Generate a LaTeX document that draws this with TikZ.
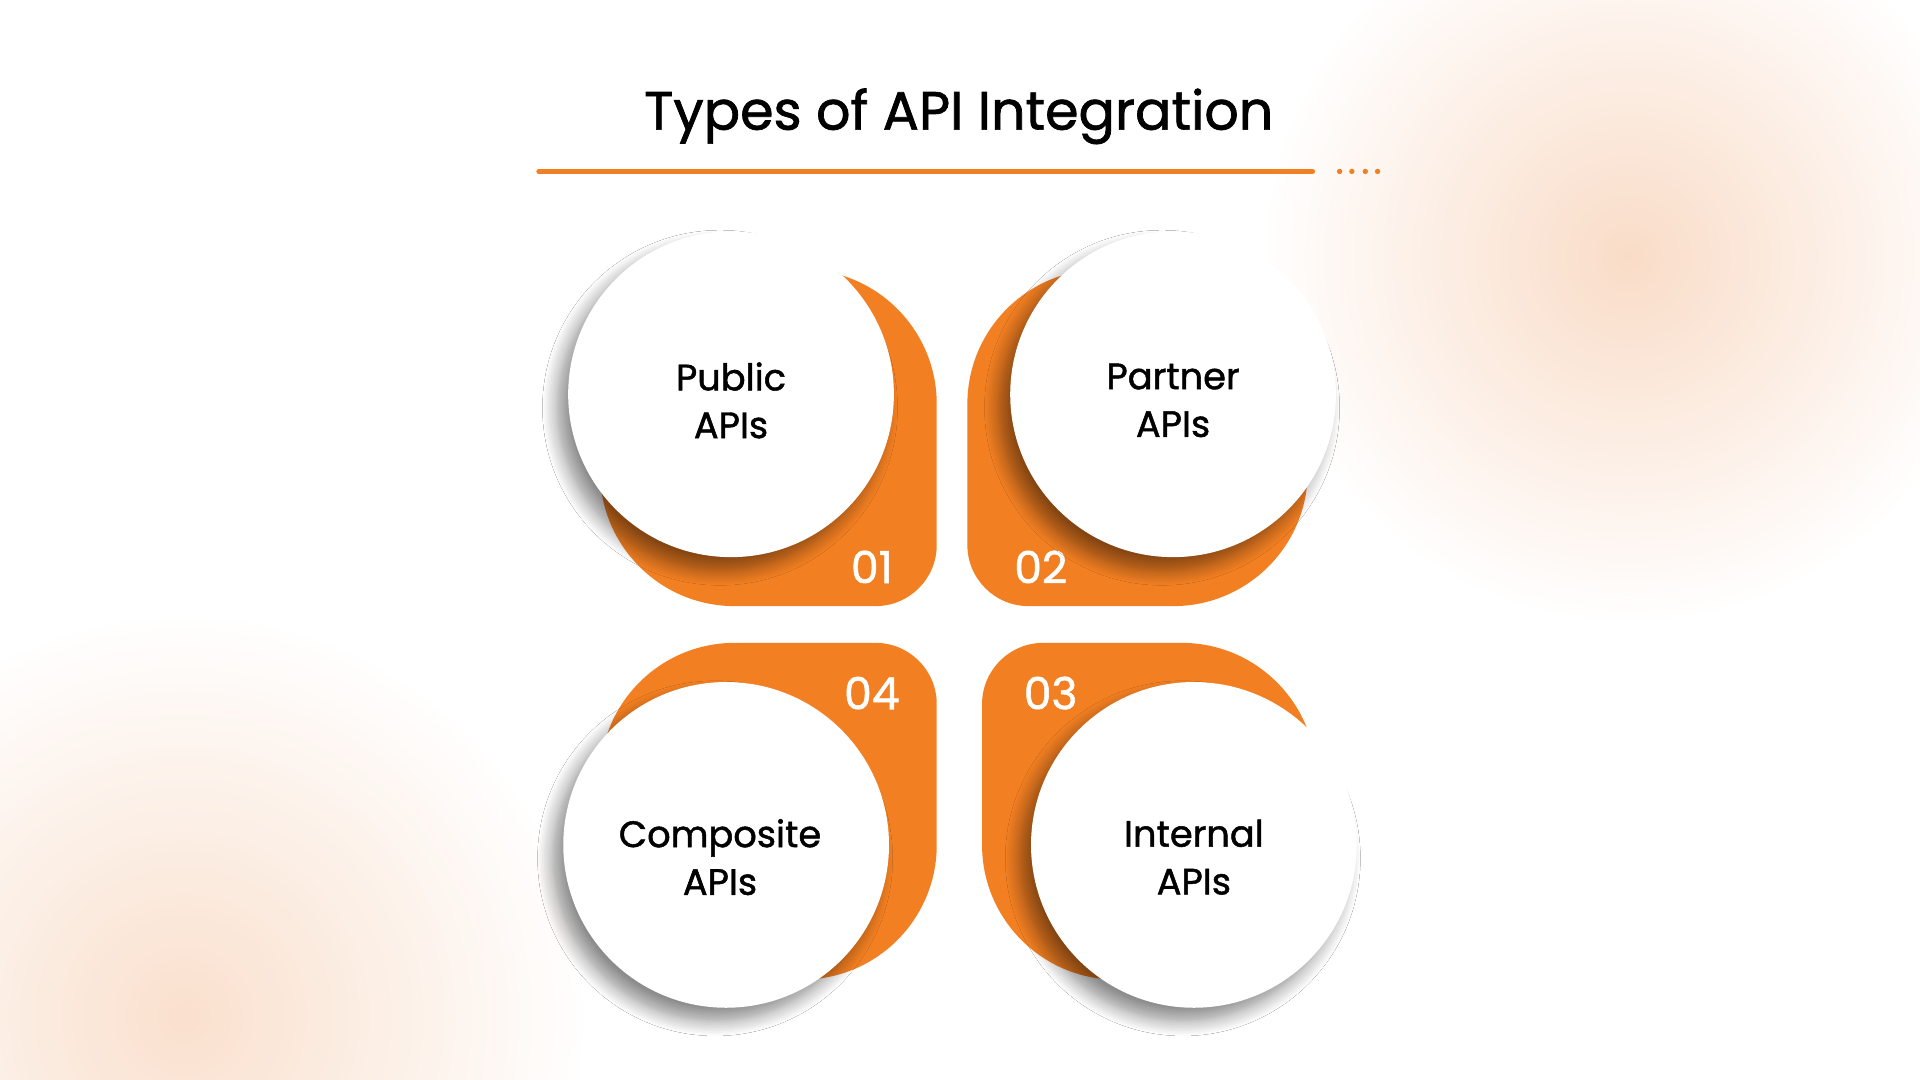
\documentclass[tikz,border=0pt]{standalone}
\usepackage{fontspec}
\setmainfont{Poppins}
\usetikzlibrary{shadows.blur}
\definecolor{org}{HTML}{F27F22}
\definecolor{peach}{HTML}{F9D9C2}
\newfontfamily\medfont{Poppins}[FakeBold=1.3]
\tikzset{
 bub/.style={circle,fill=white,minimum size=266pt,inner sep=0pt,
   blur shadow={shadow xshift=-9pt,shadow yshift=-11pt,shadow blur steps=10,shadow blur radius=12pt,shadow opacity=45}},
 lbl/.style={align=center,font=\medfont\fontsize{30}{39}\selectfont},
 num/.style={text=white,font=\medfont\fontsize{36}{36}\selectfont}
}
\begin{document}
\begin{tikzpicture}[x=1pt,y=-1pt]
\useasboundingbox (0,0) rectangle (1568,882);
\fill[white] (0,0) rectangle (1568,882);
\shade[inner color=peach,outer color=white,opacity=.9] (1330,210) circle (300);
\shade[inner color=peach,outer color=white,opacity=.8] (150,830) circle (330);
\node (title) at (783,95) {\medfont\fontsize{44}{44}\selectfont Types of API Integration};
\draw[org,line width=4pt,line cap=round] (440,140) -- (1072,140);
\foreach \x in {1094,1104,1115,1125} \fill[org] (\x,140) circle (2.2);
% orange shapes
\fill[org] (600,220) -- (655,220) arc[start angle=-90,end angle=0,radius=110] -- (765,445) arc[start angle=0,end angle=90,radius=50] -- (600,495) arc[start angle=90,end angle=180,radius=110] -- (490,330) arc[start angle=180,end angle=270,radius=110] -- cycle;
\fill[org] (958,220) arc[start angle=-90,end angle=0,radius=110] -- (1068,385) arc[start angle=0,end angle=90,radius=110] -- (840,495) arc[start angle=90,end angle=180,radius=50] -- (790,330) arc[start angle=180,end angle=270,radius=110] -- cycle;
\fill[org] (600,800) arc[start angle=90,end angle=180,radius=110] -- (490,635) arc[start angle=180,end angle=270,radius=110] -- (715,525) arc[start angle=-90,end angle=0,radius=50] -- (765,690) arc[start angle=0,end angle=90,radius=110] -- cycle;
\fill[org] (965,800) -- (912,800) arc[start angle=90,end angle=180,radius=110] -- (802,575) arc[start angle=180,end angle=270,radius=50] -- (965,525) arc[start angle=-90,end angle=0,radius=110] -- (1075,690) arc[start angle=0,end angle=90,radius=110] -- cycle;
\node[num] (n1) at (712,463) {01};
\node[num] (n2) at (850,463) {02};
\node[num] (n4) at (712,566) {04};
\node[num] (n3) at (858,566) {03};
\node[bub] (c1) at (597,322) {};
\node[bub] (c2) at (958,322) {};
\node[bub] (c4) at (593,690) {};
\node[bub] (c3) at (975,690) {};
\node[lbl] (t1) at ([yshift=-5pt]c1.center) {Public\\APIs};
\node[lbl] (t2) at ([yshift=-5pt]c2.center) {Partner\\APIs};
\node[lbl] (t4) at ([yshift=-10pt,xshift=-5pt]c4.center) {Composite\\APIs};
\node[lbl] (t3) at ([yshift=-10pt]c3.center) {Internal\\APIs};
\end{tikzpicture}
\end{document}
